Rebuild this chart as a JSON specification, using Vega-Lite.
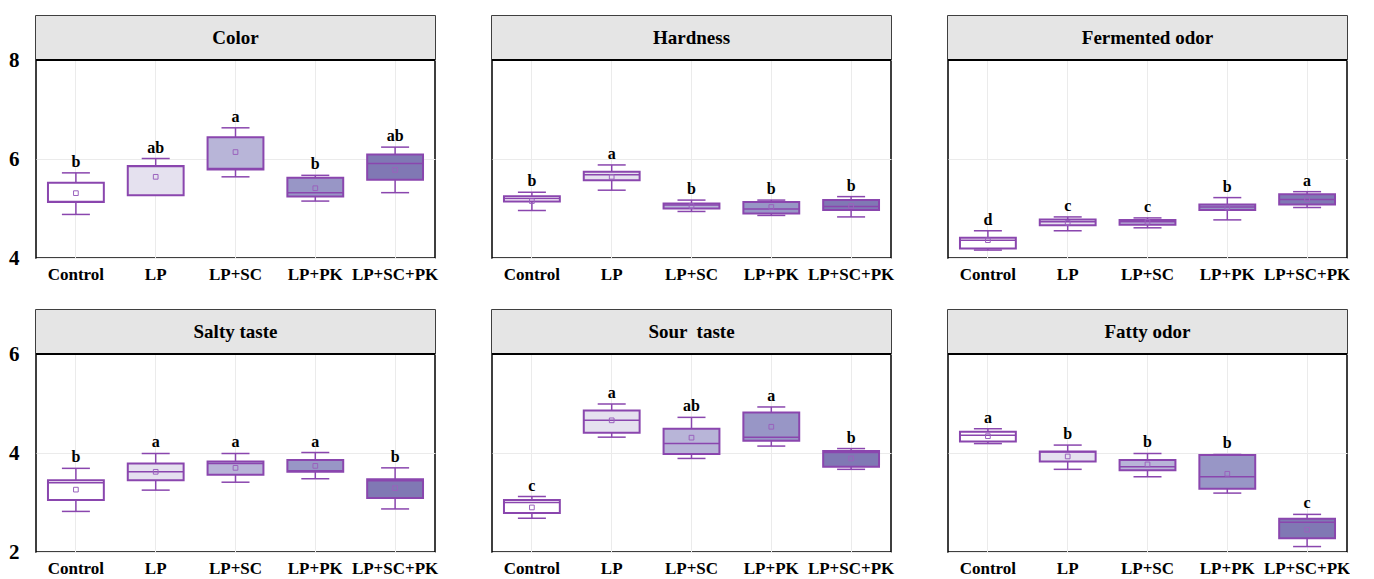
{
  "$schema": "https://vega.github.io/schema/vega-lite/v6.json",
  "padding": {"left": 8, "top": 15, "right": 0, "bottom": 0},
  "background": "white",
  "config": {
    "view": {"stroke": "black", "strokeWidth": 1.5},
    "font": "Liberation Serif",
    "text": {"font": "Liberation Serif"},
    "axis": {"labelFont": "Liberation Serif", "labelFontWeight": "bold", "labelColor": "black", "ticks": false, "domain": false, "title": null, "gridColor": "#ebebeb", "gridWidth": 1},
    "axisBand": {"labelFont": "Liberation Serif"},
    "axisX": {"labelFont": "Liberation Serif"},
    "axisY": {"labelFont": "Liberation Serif"}
  },
  "data": {"values": [
    {"r": 1, "a": "Color", "g": "Control", "lo": 4.88, "q1": 5.13, "md": 5.14, "q3": 5.52, "hi": 5.72, "mn": 5.31, "l": "b"},
    {"r": 1, "a": "Color", "g": "LP", "lo": 5.27, "q1": 5.27, "md": 5.85, "q3": 5.86, "hi": 6.01, "mn": 5.64, "l": "ab"},
    {"r": 1, "a": "Color", "g": "LP+SC", "lo": 5.64, "q1": 5.79, "md": 5.81, "q3": 6.44, "hi": 6.63, "mn": 6.14, "l": "a"},
    {"r": 1, "a": "Color", "g": "LP+PK", "lo": 5.15, "q1": 5.24, "md": 5.32, "q3": 5.62, "hi": 5.67, "mn": 5.41, "l": "b"},
    {"r": 1, "a": "Color", "g": "LP+SC+PK", "lo": 5.32, "q1": 5.58, "md": 5.91, "q3": 6.09, "hi": 6.24, "mn": 5.78, "l": "ab"},
    {"r": 1, "a": "Hardness", "g": "Control", "lo": 4.96, "q1": 5.14, "md": 5.2, "q3": 5.25, "hi": 5.33, "mn": 5.15, "l": "b"},
    {"r": 1, "a": "Hardness", "g": "LP", "lo": 5.37, "q1": 5.57, "md": 5.68, "q3": 5.74, "hi": 5.88, "mn": 5.64, "l": "a"},
    {"r": 1, "a": "Hardness", "g": "LP+SC", "lo": 4.94, "q1": 5.0, "md": 5.07, "q3": 5.1, "hi": 5.17, "mn": 5.05, "l": "b"},
    {"r": 1, "a": "Hardness", "g": "LP+PK", "lo": 4.86, "q1": 4.9, "md": 4.99, "q3": 5.13, "hi": 5.17, "mn": 5.03, "l": "b"},
    {"r": 1, "a": "Hardness", "g": "LP+SC+PK", "lo": 4.83, "q1": 4.97, "md": 5.04, "q3": 5.17, "hi": 5.24, "mn": 5.05, "l": "b"},
    {"r": 1, "a": "Fermented odor", "g": "Control", "lo": 4.16, "q1": 4.19, "md": 4.36, "q3": 4.41, "hi": 4.55, "mn": 4.36, "l": "d"},
    {"r": 1, "a": "Fermented odor", "g": "LP", "lo": 4.55, "q1": 4.66, "md": 4.73, "q3": 4.78, "hi": 4.83, "mn": 4.71, "l": "c"},
    {"r": 1, "a": "Fermented odor", "g": "LP+SC", "lo": 4.61, "q1": 4.67, "md": 4.73, "q3": 4.77, "hi": 4.81, "mn": 4.73, "l": "c"},
    {"r": 1, "a": "Fermented odor", "g": "LP+PK", "lo": 4.77, "q1": 4.97, "md": 5.03, "q3": 5.08, "hi": 5.22, "mn": 5.02, "l": "b"},
    {"r": 1, "a": "Fermented odor", "g": "LP+SC+PK", "lo": 5.02, "q1": 5.08, "md": 5.18, "q3": 5.29, "hi": 5.34, "mn": 5.19, "l": "a"},
    {"r": 2, "a": "Salty taste", "g": "Control", "lo": 2.82, "q1": 3.05, "md": 3.4, "q3": 3.45, "hi": 3.69, "mn": 3.26, "l": "b"},
    {"r": 2, "a": "Salty taste", "g": "LP", "lo": 3.25, "q1": 3.45, "md": 3.62, "q3": 3.79, "hi": 3.99, "mn": 3.62, "l": "a"},
    {"r": 2, "a": "Salty taste", "g": "LP+SC", "lo": 3.41, "q1": 3.56, "md": 3.79, "q3": 3.83, "hi": 3.99, "mn": 3.7, "l": "a"},
    {"r": 2, "a": "Salty taste", "g": "LP+PK", "lo": 3.48, "q1": 3.62, "md": 3.64, "q3": 3.86, "hi": 4.01, "mn": 3.74, "l": "a"},
    {"r": 2, "a": "Salty taste", "g": "LP+SC+PK", "lo": 2.87, "q1": 3.09, "md": 3.44, "q3": 3.47, "hi": 3.7, "mn": 3.29, "l": "b"},
    {"r": 2, "a": "Sour \u00a0taste", "g": "Control", "lo": 2.68, "q1": 2.79, "md": 3.0, "q3": 3.05, "hi": 3.12, "mn": 2.9, "l": "c"},
    {"r": 2, "a": "Sour \u00a0taste", "g": "LP", "lo": 4.32, "q1": 4.41, "md": 4.66, "q3": 4.86, "hi": 4.99, "mn": 4.66, "l": "a"},
    {"r": 2, "a": "Sour \u00a0taste", "g": "LP+SC", "lo": 3.89, "q1": 3.98, "md": 4.19, "q3": 4.49, "hi": 4.72, "mn": 4.31, "l": "ab"},
    {"r": 2, "a": "Sour \u00a0taste", "g": "LP+PK", "lo": 4.14, "q1": 4.25, "md": 4.32, "q3": 4.82, "hi": 4.93, "mn": 4.53, "l": "a"},
    {"r": 2, "a": "Sour \u00a0taste", "g": "LP+SC+PK", "lo": 3.67, "q1": 3.72, "md": 4.01, "q3": 4.04, "hi": 4.09, "mn": 3.89, "l": "b"},
    {"r": 2, "a": "Fatty odor", "g": "Control", "lo": 4.19, "q1": 4.23, "md": 4.36, "q3": 4.43, "hi": 4.49, "mn": 4.34, "l": "a"},
    {"r": 2, "a": "Fatty odor", "g": "LP", "lo": 3.67, "q1": 3.83, "md": 4.02, "q3": 4.03, "hi": 4.16, "mn": 3.93, "l": "b"},
    {"r": 2, "a": "Fatty odor", "g": "LP+SC", "lo": 3.52, "q1": 3.65, "md": 3.72, "q3": 3.86, "hi": 3.99, "mn": 3.77, "l": "b"},
    {"r": 2, "a": "Fatty odor", "g": "LP+PK", "lo": 3.19, "q1": 3.28, "md": 3.52, "q3": 3.96, "hi": 3.97, "mn": 3.58, "l": "b"},
    {"r": 2, "a": "Fatty odor", "g": "LP+SC+PK", "lo": 2.11, "q1": 2.28, "md": 2.6, "q3": 2.67, "hi": 2.76, "mn": 2.45, "l": "c"}
  ]},
  "vconcat": [
    {
      "transform": [{"filter": "datum.r == 1"}],
      "facet": {"column": {"field": "a", "type": "nominal", "sort": ["Color", "Hardness", "Fermented odor"], "title": null, "header": {"labels": false, "title": null}}},
      "spacing": 53,
      "spec": {
        "width": 399, "height": 242,
        "encoding": {
          "x": {"field": "g", "type": "nominal", "sort": ["Control", "LP", "LP+SC", "LP+PK", "LP+SC+PK"], "scale": {"paddingInner": 0, "paddingOuter": 0}, "axis": {"labelAngle": 0, "labelFont": "Liberation Serif", "labelFontWeight": "bold", "labelFontSize": 17, "labelPadding": 7, "grid": true}}
        },
        "layer": [
          {"mark": {"type": "rect", "fill": "#e5e5e5"}, "encoding": {"x": {"value": 0}, "x2": {"value": 399}, "y": {"datum": 8, "type": "quantitative", "scale": {"domain": [4, 8.889], "nice": false, "zero": false}, "axis": {"values": [4, 6, 8], "format": "d", "labelFont": "Liberation Serif", "labelFontWeight": "bold", "labelFontSize": 21, "labelPadding": 15, "grid": true}}, "y2": {"datum": 8.889}}},
          {"mark": {"type": "rule", "color": "black", "strokeWidth": 2}, "encoding": {"x": {"value": 0}, "x2": {"value": 399}, "y": {"datum": 8, "type": "quantitative"}}},
          {"transform": [{"filter": "datum.g == 'LP+SC'"}], "mark": {"type": "text", "fontSize": 19, "fontWeight": "bold", "color": "black", "baseline": "middle"}, "encoding": {"y": {"datum": 8.445, "type": "quantitative"}, "text": {"field": "a"}}},
          {"mark": {"type": "rule", "color": "#8a46ae", "strokeWidth": 1.5}, "encoding": {"y": {"field": "lo", "type": "quantitative"}, "y2": {"field": "hi"}}},
          {"mark": {"type": "tick", "color": "#8a46ae", "orient": "horizontal", "size": 28, "thickness": 1.5, "opacity": 1}, "encoding": {"y": {"field": "lo", "type": "quantitative"}}},
          {"mark": {"type": "tick", "color": "#8a46ae", "orient": "horizontal", "size": 28, "thickness": 1.5, "opacity": 1}, "encoding": {"y": {"field": "hi", "type": "quantitative"}}},
          {"mark": {"type": "bar", "stroke": "#8a46ae", "strokeWidth": 2, "width": {"band": 0.7}, "opacity": 1}, "encoding": {"y": {"field": "q1", "type": "quantitative"}, "y2": {"field": "q3"}, "fill": {"field": "g", "type": "nominal", "scale": {"domain": ["Control", "LP", "LP+SC", "LP+PK", "LP+SC+PK"], "range": ["#ffffff", "#e5e1ef", "#b8b5d8", "#9896c6", "#8078b4"]}, "legend": null}}},
          {"mark": {"type": "tick", "color": "#8a46ae", "orient": "horizontal", "size": 56, "thickness": 1.5, "opacity": 1}, "encoding": {"y": {"field": "md", "type": "quantitative"}}},
          {"mark": {"type": "point", "shape": "square", "size": 22, "filled": false, "color": "#9a62bd", "strokeWidth": 1, "opacity": 1}, "encoding": {"y": {"field": "mn", "type": "quantitative"}}},
          {"mark": {"type": "text", "fontSize": 16, "fontWeight": "bold", "color": "black", "baseline": "bottom", "dy": -3}, "encoding": {"y": {"field": "hi", "type": "quantitative"}, "text": {"field": "l"}}}
        ]
      }
    },
    {
      "transform": [{"filter": "datum.r == 2"}],
      "facet": {"column": {"field": "a", "type": "nominal", "sort": ["Salty taste", "Sour \u00a0taste", "Fatty odor"], "title": null, "header": {"labels": false, "title": null}}},
      "spacing": 53,
      "spec": {
        "width": 399, "height": 242,
        "encoding": {
          "x": {"field": "g", "type": "nominal", "sort": ["Control", "LP", "LP+SC", "LP+PK", "LP+SC+PK"], "scale": {"paddingInner": 0, "paddingOuter": 0}, "axis": {"labelAngle": 0, "labelFont": "Liberation Serif", "labelFontWeight": "bold", "labelFontSize": 17, "labelPadding": 7, "grid": true}}
        },
        "layer": [
          {"mark": {"type": "rect", "fill": "#e5e5e5"}, "encoding": {"x": {"value": 0}, "x2": {"value": 399}, "y": {"datum": 6, "type": "quantitative", "scale": {"domain": [2, 6.889], "nice": false, "zero": false}, "axis": {"values": [2, 4, 6], "format": "d", "labelFont": "Liberation Serif", "labelFontWeight": "bold", "labelFontSize": 21, "labelPadding": 15, "grid": true}}, "y2": {"datum": 6.889}}},
          {"mark": {"type": "rule", "color": "black", "strokeWidth": 2}, "encoding": {"x": {"value": 0}, "x2": {"value": 399}, "y": {"datum": 6, "type": "quantitative"}}},
          {"transform": [{"filter": "datum.g == 'LP+SC'"}], "mark": {"type": "text", "fontSize": 19, "fontWeight": "bold", "color": "black", "baseline": "middle"}, "encoding": {"y": {"datum": 6.445, "type": "quantitative"}, "text": {"field": "a"}}},
          {"mark": {"type": "rule", "color": "#8a46ae", "strokeWidth": 1.5}, "encoding": {"y": {"field": "lo", "type": "quantitative"}, "y2": {"field": "hi"}}},
          {"mark": {"type": "tick", "color": "#8a46ae", "orient": "horizontal", "size": 28, "thickness": 1.5, "opacity": 1}, "encoding": {"y": {"field": "lo", "type": "quantitative"}}},
          {"mark": {"type": "tick", "color": "#8a46ae", "orient": "horizontal", "size": 28, "thickness": 1.5, "opacity": 1}, "encoding": {"y": {"field": "hi", "type": "quantitative"}}},
          {"mark": {"type": "bar", "stroke": "#8a46ae", "strokeWidth": 2, "width": {"band": 0.7}, "opacity": 1}, "encoding": {"y": {"field": "q1", "type": "quantitative"}, "y2": {"field": "q3"}, "fill": {"field": "g", "type": "nominal", "scale": {"domain": ["Control", "LP", "LP+SC", "LP+PK", "LP+SC+PK"], "range": ["#ffffff", "#e5e1ef", "#b8b5d8", "#9896c6", "#8078b4"]}, "legend": null}}},
          {"mark": {"type": "tick", "color": "#8a46ae", "orient": "horizontal", "size": 56, "thickness": 1.5, "opacity": 1}, "encoding": {"y": {"field": "md", "type": "quantitative"}}},
          {"mark": {"type": "point", "shape": "square", "size": 22, "filled": false, "color": "#9a62bd", "strokeWidth": 1, "opacity": 1}, "encoding": {"y": {"field": "mn", "type": "quantitative"}}},
          {"mark": {"type": "text", "fontSize": 16, "fontWeight": "bold", "color": "black", "baseline": "bottom", "dy": -3}, "encoding": {"y": {"field": "hi", "type": "quantitative"}, "text": {"field": "l"}}}
        ]
      }
    }
  ],
  "spacing": 27
}
